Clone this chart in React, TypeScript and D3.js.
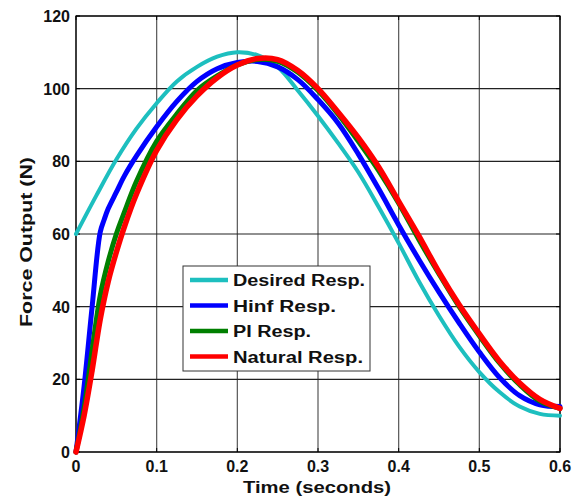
import React from "react";
import * as d3 from "d3";

const xTicks = [0, 0.1, 0.2, 0.3, 0.4, 0.5, 0.6];
const yTicks = [0, 20, 40, 60, 80, 100, 120];

const desiredT = [0, 0.025, 0.05, 0.075, 0.1, 0.125, 0.15, 0.175, 0.2, 0.225, 0.25, 0.275, 0.3, 0.325, 0.35, 0.375, 0.4, 0.425, 0.45, 0.475, 0.5, 0.525, 0.55, 0.575, 0.6];
const desiredV = [60, 70.5, 80.5, 89, 96, 102, 106, 108.8, 110, 109.2, 106, 99.5, 92.5, 85, 77, 67.5, 57.5, 47, 37.5, 29, 22, 16.5, 12.5, 10.5, 10];

const hinfT = [0, 0.01, 0.02, 0.03, 0.035, 0.04, 0.05, 0.06, 0.075, 0.1, 0.125, 0.15, 0.175, 0.2, 0.225, 0.25, 0.275, 0.3, 0.325, 0.35, 0.375, 0.4, 0.425, 0.45, 0.475, 0.5, 0.525, 0.55, 0.575, 0.6];
const hinfV = [0, 18, 40, 60.5, 64, 67, 71.5, 76, 81.5, 89.5, 96.5, 102, 105.5, 107.2, 107.5, 106, 102.5, 97, 90.5, 82, 72.5, 62.5, 53, 44, 35.5, 27.5, 20.5, 15.5, 13, 12.5];

const piT = [0, 0.01, 0.02, 0.03, 0.04, 0.05, 0.06, 0.075, 0.1, 0.125, 0.15, 0.175, 0.2, 0.225, 0.25, 0.275, 0.3, 0.325, 0.35, 0.375, 0.4, 0.425, 0.45, 0.475, 0.5, 0.525, 0.55, 0.575, 0.6];
const piV = [0, 12, 28, 43, 52.5, 60, 66, 74.5, 85.5, 93, 99.5, 103.5, 106.5, 108, 107.5, 104.5, 99.5, 93, 85.5, 77.5, 68.5, 58.5, 49, 40, 32, 24.5, 18.5, 14, 12];

const naturalT = piT;
const naturalV = [0, 10, 22.5, 36.5, 47, 55, 62, 71, 83, 91.5, 98, 103, 106.5, 108.3, 108, 105, 100, 93.5, 86.5, 78.5, 69, 59.5, 49.5, 40.5, 32.5, 25, 19, 14.5, 12];

const seriesNames = ["Desired Resp.", "Hinf Resp.", "PI Resp.", "Natural Resp."];
const seriesColors = ["#1DBFBF", "#0000FF", "#007F00", "#FF0000"];

const W = 579;
const H = 497;
const L = 76, R = 560, T = 16, B = 452;

export default function App() {
  const x = d3.scaleLinear().domain([0, 0.6]).range([L, R]);
  const y = d3.scaleLinear().domain([0, 120]).range([B, T]);
  const line = d3
    .line<[number, number]>()
    .x((d) => x(d[0]))
    .y((d) => y(d[1]))
    .curve(d3.curveCatmullRom.alpha(0.5));

  const series = [
    { t: desiredT, v: desiredV, w: 4 },
    { t: hinfT, v: hinfV, w: 5 },
    { t: piT, v: piV, w: 5 },
    { t: naturalT, v: naturalV, w: 5.5 },
  ];

  const font = "Arial, 'Liberation Sans', sans-serif";
  const legendWidths = [132, 103, 78, 130];

  return (
    <svg
      width={W}
      height={H}
      style={{ position: "absolute", left: 0, top: 0, background: "#fff" }}
      fontFamily={font}
    >
      <rect x={0} y={0} width={W} height={H} fill="#fff" />
      {xTicks.map((t) => (
        <line key={"gx" + t} x1={x(t)} x2={x(t)} y1={T} y2={B} stroke="#555" strokeWidth={1.2} />
      ))}
      {yTicks.map((t) => (
        <line key={"gy" + t} x1={L} x2={R} y1={y(t)} y2={y(t)} stroke="#222" strokeWidth={1.2} />
      ))}
      {xTicks.map((t) => (
        <g key={"tx" + t}>
          <line x1={x(t)} x2={x(t)} y1={B} y2={B - 4} stroke="#000" strokeWidth={1} />
          <line x1={x(t)} x2={x(t)} y1={T} y2={T + 4} stroke="#000" strokeWidth={1} />
        </g>
      ))}
      {yTicks.map((t) => (
        <g key={"ty" + t}>
          <line x1={L} x2={L + 4} y1={y(t)} y2={y(t)} stroke="#000" strokeWidth={1} />
          <line x1={R} x2={R - 4} y1={y(t)} y2={y(t)} stroke="#000" strokeWidth={1} />
        </g>
      ))}
      <rect x={L} y={T} width={R - L} height={B - T} fill="none" stroke="#000" strokeWidth={1.2} />
      {series.map((s, i) => (
        <path
          key={"s" + i}
          d={line(s.t.map((t, j) => [t, s.v[j]] as [number, number])) || ""}
          fill="none"
          stroke={seriesColors[i]}
          strokeWidth={s.w}
          strokeLinejoin="round"
          strokeLinecap="round"
        />
      ))}
      {xTicks.map((t) => (
        <text key={"lx" + t} x={x(t)} y={472} textAnchor="middle" fontSize={16} fontWeight="bold" fill="#111">
          {t === 0 ? "0" : t.toFixed(1)}
        </text>
      ))}
      {yTicks.map((t) => (
        <text key={"ly" + t} x={70} y={y(t) + 6} textAnchor="end" fontSize={16} fontWeight="bold" fill="#111">
          {t}
        </text>
      ))}
      <text x={317} y={493} textAnchor="middle" fontSize={17} fontWeight="bold" fill="#111" textLength={148} lengthAdjust="spacingAndGlyphs">
        Time (seconds)
      </text>
      <text
        transform={`translate(32,242) rotate(-90)`}
        textAnchor="middle"
        fontSize={16}
        fontWeight="bold"
        fill="#111"
        textLength={170}
        lengthAdjust="spacingAndGlyphs"
      >
        Force Output (N)
      </text>
      <rect x={183} y={266} width={187} height={105} fill="#fff" stroke="#333" strokeWidth={1} />
      {seriesNames.map((n, i) => {
        const ly = 280 + i * 25.5;
        return (
          <g key={"lg" + i}>
            <line x1={190} x2={228} y1={ly} y2={ly} stroke={seriesColors[i]} strokeWidth={4.5} />
            <text
              x={233}
              y={ly + 6}
              fontSize={16}
              fontWeight="bold"
              fill="#111"
              textLength={legendWidths[i]}
              lengthAdjust="spacingAndGlyphs"
            >
              {n}
            </text>
          </g>
        );
      })}
    </svg>
  );
}
